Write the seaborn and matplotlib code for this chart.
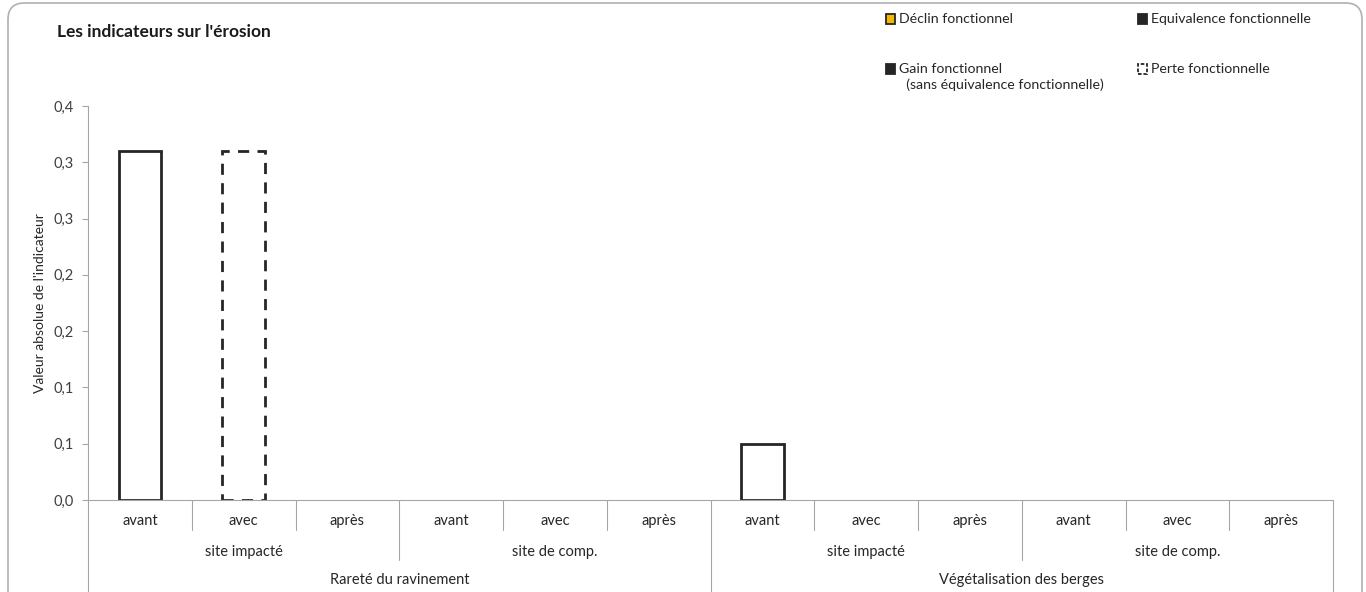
import matplotlib
matplotlib.use("Agg")
import matplotlib.pyplot as plt
import matplotlib.patches as mpatches
from matplotlib.patches import FancyBboxPatch
import matplotlib.transforms as mtransforms
import numpy as np
import pandas as pd
import seaborn as sns

# ---------------- data ----------------
indicateurs = ["Rareté du ravinement", "Végétalisation des berges"]
sites = ["site impacté", "site de comp."]
periodes = ["avant", "avec", "après"]
# values per (indicateur, site, periode) in order
valeurs = [0.31, 0.31, np.nan, np.nan, np.nan, np.nan,
           0.05, np.nan, np.nan, np.nan, np.nan, np.nan]
# type de valeur : mesurée (trait plein) ou estimée (tirets)
statut = ["mesure", "estime", "", "", "", "",
          "mesure", "", "", "", "", ""]
ytick_vals = [0.0, 0.05, 0.10, 0.15, 0.20, 0.25, 0.30, 0.35]
ytick_labels = ["0,0", "0,1", "0,1", "0,2", "0,2", "0,3", "0,3", "0,4"]
legend_labels = ["Déclin fonctionnel", "Equivalence fonctionnelle",
                 "Gain fonctionnel\n  (sans équivalence fonctionnelle)",
                 "Perte fonctionnelle"]
title = "Les indicateurs sur l'érosion"
ylabel = "Valeur absolue de l'indicateur"

# ---------------- build frame ----------------
keys, per_lbl = [], []
for i in indicateurs:
    for s in sites:
        for p in periodes:
            keys.append(f"{i}|{s}|{p}")
            per_lbl.append(p)
df = pd.DataFrame({"cle": keys, "valeur": valeurs, "statut": statut})

sns.set_theme(style="white")
plt.rcParams["font.family"] = ["Lato", "DejaVu Sans"]

W, H = 1366, 592
fig = plt.figure(figsize=(W / 100, H / 100), dpi=100)
L, R, T, B = 88, 1333, 106, 500
ax = fig.add_axes([L / W, 1 - B / H, (R - L) / W, (B - T) / H])

sns.barplot(data=df.dropna(subset=["valeur"]), x="cle", y="valeur", order=keys,
            width=0.41, color="white", edgecolor="#262626", linewidth=2,
            errorbar=None, ax=ax)

# apply line style per bar
styles = {"mesure": "-", "estime": (0, (4, 3))}
present = [k for k, v in zip(keys, valeurs) if not np.isnan(v)]
patches = [p for p in ax.patches if p.get_height() > 0]
patches.sort(key=lambda p: p.get_x())
for p, k in zip(patches, present):
    st = df.loc[df.cle == k, "statut"].iloc[0]
    p.set_linestyle(styles[st])
    p.set_facecolor("none")

ax.set_xlim(-0.5, len(keys) - 0.5)
ax.set_ylim(0, 0.35)
ax.set_yticks(ytick_vals)
ax.set_yticklabels(ytick_labels, fontsize=10.5, color="#404040")
ax.set_xticks([])
ax.set_xlabel("")
ax.set_ylabel(ylabel, fontsize=10, color="#262626")
ax.yaxis.set_label_coords(-0.034, 0.5)
ax.tick_params(axis="y", length=4, width=0.8, color="#a6a6a6", left=True, pad=6)
for sp in ["top", "right"]:
    ax.spines[sp].set_visible(False)
for sp in ["left", "bottom"]:
    ax.spines[sp].set_color("#a6a6a6")
    ax.spines[sp].set_linewidth(0.8)

# ---------------- multi-level x axis ----------------
tr = mtransforms.blended_transform_factory(ax.transData, ax.transAxes)
ph = B - T
y1 = -30 / ph
y2 = -60 / ph
y3 = -100 / ph
lc = "#a6a6a6"
n = len(keys)
for j in range(n + 1):
    x = j - 0.5
    if j % 6 == 0:
        yb = y3
    elif j % 3 == 0:
        yb = y2
    else:
        yb = y1
    ax.plot([x, x], [0, yb], transform=tr, color=lc, lw=0.8, clip_on=False)
for j, p in enumerate(per_lbl):
    ax.text(j, -21 / ph, p, transform=tr, ha="center", va="center",
            fontsize=10.5, color="#262626")
for g in range(len(indicateurs) * len(sites)):
    ax.text(g * 3 + 1, -52 / ph, sites[g % 2], transform=tr, ha="center",
            va="center", fontsize=10.5, color="#262626")
for g in range(len(indicateurs)):
    ax.text(g * 6 + 2.5, -80 / ph, indicateurs[g], transform=tr, ha="center",
            va="center", fontsize=10.5, color="#262626")

# ---------------- title ----------------
fig.text(57 / W, 1 - 32 / H, title, fontsize=12.5, fontweight="bold",
         color="#1a1a1a", va="center", ha="left")

# ---------------- legend (manual, figure pixels) ----------------
def px(x, y):
    return (x / W, 1 - y / H)

leg_pos = [(886, 19), (1138, 19), (886, 69), (1138, 69)]
leg_face = ["#f5b800", "#262626", "#262626", "white"]
leg_ls = ["-", "-", "-", (0, (2, 1))]
leg_hatch = [None, None, "|", None]
for (x0, yc), lab, fc, ls, hat in zip(leg_pos, legend_labels, leg_face, leg_ls, leg_hatch):
    rect = mpatches.Rectangle(px(x0, yc + 4.5), 9 / W, 9 / H,
                              transform=fig.transFigure, facecolor=fc,
                              edgecolor="#262626", linewidth=1.3, linestyle=ls,
                              hatch=hat)
    fig.patches.append(rect)
    fig.text((x0 + 13) / W, 1 - (yc - 6) / H, lab, fontsize=10.2,
             color="#262626", va="top", ha="left", linespacing=1.35)

# ---------------- frame ----------------
frame = FancyBboxPatch((8 / W, -0.2), (1362 - 8) / W, 1.2 - 3 / H,
                       boxstyle="round,pad=0,rounding_size=0.012",
                       transform=fig.transFigure, facecolor="none",
                       edgecolor="#b0b0b0", linewidth=1.2, clip_on=False,
                       mutation_aspect=W / H)
fig.patches.append(frame)

fig.savefig("out.png", dpi=100)
